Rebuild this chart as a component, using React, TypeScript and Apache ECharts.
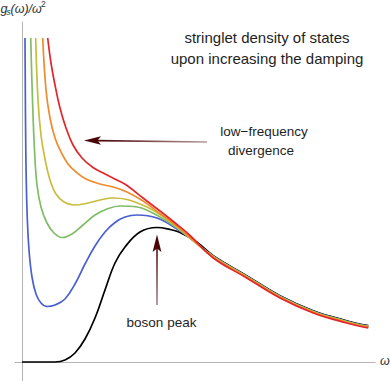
import React, { useEffect, useRef } from "react";
import * as echarts from "echarts";

// ω (x) and g_s(ω)/ω² (y) values, arbitrary units
const tailX = [3.826, 4.494, 5.16, 5.826, 6.494, 6.926];

const blueCurve: [number, number][] = [
  [0.06, 6.48], [0.076, 4.24], [0.1, 3.04], [0.14, 2.24], [0.2, 1.7], [0.28, 1.36],
  [0.38, 1.18], [0.5, 1.11], [0.66, 1.14], [0.86, 1.26], [1.06, 1.56], [1.26, 1.96],
  [1.46, 2.32], [1.66, 2.6], [1.86, 2.79], [2.06, 2.9], [2.3, 2.94], [2.7, 2.88],
  [3.1, 2.66], [3.36, 2.48],
];
const blueTail = [2.116, 1.716, 1.316, 1.016, 0.816, 0.716];

const greenCurve: [number, number][] = [
  [0.174, 6.48], [0.21, 5.24], [0.25, 4.24], [0.3, 3.54], [0.38, 3.1], [0.5, 2.78],
  [0.64, 2.58], [0.8, 2.49], [1.0, 2.56], [1.22, 2.74], [1.46, 2.94], [1.7, 3.06],
  [1.96, 3.12], [2.3, 3.1], [2.76, 2.9], [3.1, 2.68], [3.36, 2.48],
];
const greenTail = [2.111, 1.711, 1.311, 1.011, 0.811, 0.711];

const yellowCurve: [number, number][] = [
  [0.274, 6.48], [0.32, 5.24], [0.38, 4.54], [0.46, 4.06], [0.56, 3.64], [0.68, 3.36],
  [0.84, 3.2], [1.04, 3.14], [1.28, 3.17], [1.56, 3.24], [1.82, 3.28], [2.1, 3.25],
  [2.5, 3.1], [2.76, 2.95], [3.1, 2.7], [3.36, 2.48],
];
const yellowTail = [2.106, 1.706, 1.306, 1.006, 0.806, 0.706];

const orangeCurve: [number, number][] = [
  [0.414, 6.48], [0.48, 5.44], [0.56, 4.88], [0.66, 4.48], [0.78, 4.2], [0.92, 3.96],
  [1.08, 3.8], [1.28, 3.66], [1.56, 3.56], [1.82, 3.5], [2.1, 3.4], [2.42, 3.22],
  [2.76, 2.97], [3.1, 2.72], [3.36, 2.49],
];
const orangeTail = [2.096, 1.696, 1.296, 0.996, 0.796, 0.696];

const redCurve: [number, number][] = [
  [0.514, 6.48], [0.58, 5.98], [0.66, 5.54], [0.76, 5.08], [0.88, 4.68], [1.02, 4.34],
  [1.2, 4.08], [1.42, 3.89], [1.66, 3.76], [1.9, 3.64], [2.1, 3.53], [2.42, 3.28],
  [2.76, 3.02], [3.1, 2.75], [3.36, 2.53],
];
const redTail = [2.081, 1.681, 1.281, 0.981, 0.781, 0.681];

const blackCurve: [number, number][] = [
  [0, 0], [0.66, 0], [0.86, 0.04], [1.06, 0.18], [1.26, 0.46], [1.46, 0.88],
  [1.66, 1.44], [1.86, 1.98], [2.06, 2.3], [2.36, 2.6], [2.7, 2.69], [2.96, 2.65],
  [3.16, 2.59], [3.494, 2.4],
];
const blackTail = [2.126, 1.726, 1.326, 1.026, 0.826, 0.726];

const seriesNames = ["boson", "d1", "d2", "d3", "d4", "d5"];
const seriesColors = ["#000000", "#4a5fd2", "#7fbd66", "#c8bd3c", "#f08a2c", "#e2262a"];

const titleLines = ["stringlet density of states", "upon increasing the damping"];
const annotation1 = ["low\u2212frequency", "divergence"];
const annotation2 = "boson peak";

function withTail(curve: [number, number][], tail: number[]) {
  return curve.concat(tailX.map((x, i) => [x, tail[i]] as [number, number]));
}

export default function App() {
  const ref = useRef<HTMLDivElement>(null);
  useEffect(() => {
    if (!ref.current) return;
    const chart = echarts.init(ref.current, undefined, { renderer: "svg" });
    const curves = [
      withTail(blackCurve, blackTail),
      withTail(blueCurve, blueTail),
      withTail(greenCurve, greenTail),
      withTail(yellowCurve, yellowTail),
      withTail(orangeCurve, orangeTail),
      withTail(redCurve, redTail),
    ];
    const font = "'Liberation Sans', Arial, sans-serif";
    const txt = "#1e1e1e";
    const hGrad = new echarts.graphic.LinearGradient(98, 0, 207, 0, [
      { offset: 0, color: "#4a0606" },
      { offset: 1, color: "#b89a9a" },
    ], true);
    const vGrad = new echarts.graphic.LinearGradient(0, 249, 0, 305, [
      { offset: 0, color: "#5a1010" },
      { offset: 1, color: "#a88484" },
    ], true);
    chart.setOption({
      animation: false,
      grid: { left: 15, right: 15, top: 22, bottom: 0, containLabel: false },
      xAxis: {
        type: "value",
        min: -0.14,
        max: 7.06,
        axisLine: { onZero: true, lineStyle: { color: "#b4b4b4", width: 1 } },
        axisTick: { show: false },
        axisLabel: { show: false },
        splitLine: { show: false },
      },
      yAxis: {
        type: "value",
        min: -0.38,
        max: 6.8,
        axisLine: { show: true, onZero: true, lineStyle: { color: "#b4b4b4", width: 1 } },
        axisTick: { show: false },
        axisLabel: { show: false },
        splitLine: { show: false },
      },
      series: curves.map((data, i) => ({
        type: "line",
        name: seriesNames[i],
        data,
        smooth: 0.4,
        showSymbol: false,
        symbol: "none",
        lineStyle: { color: seriesColors[i], width: 1.7 },
        z: 2 + i,
      })),
      graphic: [
        { type: "text", x: 0.5, y: 8.5, style: { text: "g", fontSize: 12.5, fontStyle: "italic", fontFamily: font, fill: "#333", align: "left", verticalAlign: "middle" } },
        { type: "text", x: 6.5, y: 11.8, style: { text: "s", fontSize: 8.5, fontStyle: "italic", fontFamily: font, fill: "#333", align: "left", verticalAlign: "middle" } },
        { type: "text", x: 10.5, y: 8.5, style: { text: "(\u03c9)/\u03c9", fontSize: 12.5, fontStyle: "italic", fontFamily: font, fill: "#333", align: "left", verticalAlign: "middle" } },
        { type: "text", x: 41, y: 4, style: { text: "2", fontSize: 8.5, fontFamily: font, fill: "#333", align: "left", verticalAlign: "middle" } },
        { type: "text", x: 380, y: 361, style: { text: "\u03c9", fontSize: 12.5, fontStyle: "italic", fontFamily: font, fill: "#333", align: "left", verticalAlign: "middle" } },
        { type: "text", x: 267, y: 37.7, style: { text: titleLines[0], fontSize: 15, fontFamily: font, fill: txt, align: "center", verticalAlign: "middle" } },
        { type: "text", x: 267, y: 58.7, style: { text: titleLines[1], fontSize: 15, fontFamily: font, fill: txt, align: "center", verticalAlign: "middle" } },
        { type: "text", x: 264, y: 131, style: { text: annotation1[0], fontSize: 13.5, fontFamily: font, fill: txt, align: "center", verticalAlign: "middle" } },
        { type: "text", x: 261, y: 150.5, style: { text: annotation1[1], fontSize: 13.5, fontFamily: font, fill: txt, align: "center", verticalAlign: "middle" } },
        { type: "text", x: 161.5, y: 322.5, style: { text: annotation2, fontSize: 13.5, fontFamily: font, fill: txt, align: "center", verticalAlign: "middle" } },
        { type: "line", shape: { x1: 207, y1: 142, x2: 97, y2: 140.6 }, style: { stroke: hGrad, lineWidth: 1.6 }, z: 10 },
        { type: "polygon", shape: { points: [[84, 140.5], [101, 136.3], [97.5, 140.5], [101, 144.7]] }, style: { fill: "#4a0606" }, z: 10 },
        { type: "line", shape: { x1: 157, y1: 248, x2: 157, y2: 305 }, style: { stroke: vGrad, lineWidth: 1.6 }, z: 10 },
        { type: "polygon", shape: { points: [[157, 234.5], [152.6, 252], [157, 248.5], [161.4, 252]] }, style: { fill: "#4a0606" }, z: 10 },
      ],
    });
    return () => chart.dispose();
  }, []);
  return (
    <div
      ref={ref}
      style={{ position: "fixed", left: 0, top: 0, width: 390, height: 381, background: "#fff" }}
    />
  );
}
